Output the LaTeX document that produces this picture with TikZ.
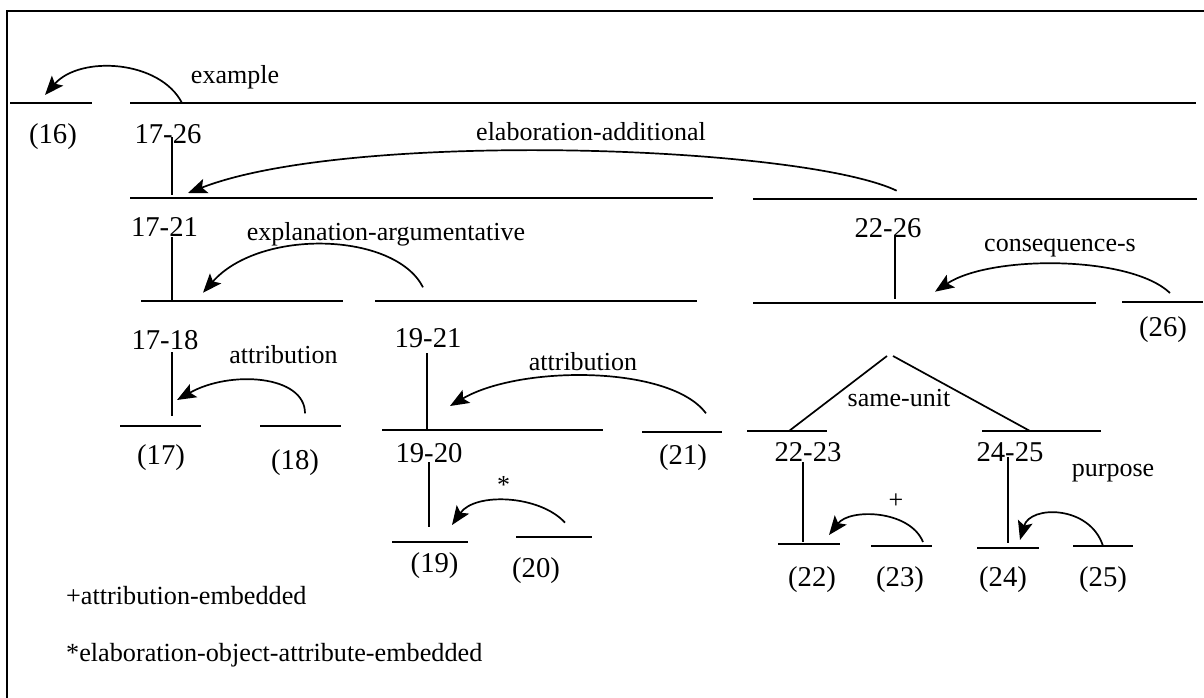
\documentclass[tikz,border=0pt]{standalone}
\usepackage{fontspec}
\setmainfont{Liberation Serif}
\usetikzlibrary{arrows.meta}
\tikzset{
  lab/.style={font=\fontsize{26}{30}\selectfont, inner sep=0pt, anchor=base},
  num/.style={font=\fontsize{28.7}{32}\selectfont, inner sep=0pt, anchor=base},
  note/.style={font=\fontsize{26.2}{30}\selectfont, inner sep=0pt, anchor=base west},
  span/.style={line width=2pt},
  stem/.style={line width=2pt},
  rel/.style={line width=1.7pt, -{Stealth[length=19pt,width=15pt,inset=4pt]}},
  frameline/.style={line width=2pt}
}
\begin{document}
\begin{tikzpicture}[x=1pt,y=-1pt]
\useasboundingbox (0,0) rectangle (1204,698);
% frame
\coordinate (fTL) at (7,11);
\coordinate (fTR) at (1204,11);
\coordinate (fBL) at (7,698);
\draw[frameline] (fTR) -- (fTL) -- (fBL);

% horizontal spans
\draw[span] (10,103) -- (92,103);
\draw[span] (130,103) -- (1196,103);
\draw[span] (130,198) -- (713,198);
\draw[span] (753,199) -- (1197,199);
\draw[span] (141,301) -- (343,301);
\draw[span] (375,301) -- (697,301);
\draw[span] (753,303) -- (1096,303);
\draw[span] (1122,302) -- (1203,302);
\draw[span] (120,426) -- (201,426);
\draw[span] (260,426) -- (341,426);
\draw[span] (382,430) -- (603,430);
\draw[span] (642,432) -- (722,432);
\draw[span] (747,431) -- (827,431);
\draw[span] (982,431) -- (1101,431);
\draw[span] (392,542) -- (468,542);
\draw[span] (516,537) -- (592,537);
\draw[span] (778,544) -- (840,544);
\draw[span] (871,546) -- (932,546);
\draw[span] (977,548) -- (1039,548);
\draw[span] (1073,546) -- (1133,546);

% stems
\coordinate (s1a) at (172,137); \coordinate (s1b) at (172,195);
\coordinate (s2a) at (172,237); \coordinate (s2b) at (172,301);
\coordinate (s3a) at (895,237); \coordinate (s3b) at (895,299);
\coordinate (s4a) at (172,352); \coordinate (s4b) at (172,416);
\coordinate (s5a) at (427,353); \coordinate (s5b) at (427,430);
\coordinate (s6a) at (429,462); \coordinate (s6b) at (429,527);
\coordinate (s7a) at (803,462); \coordinate (s7b) at (803,542);
\coordinate (s8a) at (1008,457); \coordinate (s8b) at (1008,543);
\foreach \n in {1,...,8} { \draw[stem] (s\n a) -- (s\n b); }

% same-unit
\coordinate (suL) at (887,356); \coordinate (suR) at (893,356);
\coordinate (suLe) at (789,431); \coordinate (suRe) at (1030,431);
\draw[line width=1.7pt] (suL) -- (suLe);
\draw[line width=1.7pt] (suR) -- (suRe);

% relation arrows
\coordinate (exS) at (182,103); \coordinate (exT) at (45,95);
\draw[rel] (exS) .. controls (160,60) and (80,55) .. (exT);
\coordinate (eaS) at (896.7,190.7); \coordinate (eaT) at (188,193);
\draw[rel] (eaS) .. controls (800,145) and (350,130) .. (eaT);
\coordinate (xaS) at (423,287.3); \coordinate (xaT) at (203,292.7);
\draw[rel] (xaS) .. controls (395,232) and (260,228) .. (xaT);
\coordinate (csS) at (1170,293); \coordinate (csT) at (935,291.7);
\draw[rel] (csS) .. controls (1130,255) and (990,255) .. (csT);
\coordinate (a1S) at (305,413.3); \coordinate (a1T) at (177,400);
\draw[rel] (a1S) .. controls (305,375) and (230,370) .. (a1T);
\coordinate (a2S) at (706,413.3); \coordinate (a2T) at (450,406);
\draw[rel] (a2S) .. controls (670,365) and (520,365) .. (a2T);
\coordinate (stS) at (565,522.7); \coordinate (stT) at (452,525);
\draw[rel] (stS) .. controls (540,495) and (475,492) .. (stT);
\coordinate (plS) at (923,542); \coordinate (plT) at (829,535);
\draw[rel] (plS) .. controls (910,510) and (850,508) .. (plT);
\coordinate (puS) at (1103,546); \coordinate (puT) at (1020,540);
\draw[rel] (puS) .. controls (1090,505) and (1030,505) .. (puT);

% labels
\node[lab] (lex) at (235,84) {example};
\node[num] (l16) at (53,143) {(16)};
\node[num] (l1726) at (168,143) {17-26};
\node[lab] (lea) at (591,140) {elaboration-additional};
\node[num] (l1721) at (164.5,236) {17-21};
\node[lab] (lxa) at (386,240) {explanation-argumentative};
\node[num] (l2226) at (888,237) {22-26};
\node[lab] (lcs) at (1060,251) {consequence-s};
\node[num] (l26) at (1163,336) {(26)};
\node[num] (l1718) at (165,349) {17-18};
\node[lab] (lat1) at (283.5,363) {attribution};
\node[num] (l1921) at (428,347) {19-21};
\node[lab] (lat2) at (583,370) {attribution};
\node[lab] (lsu) at (899,406) {same-unit};
\node[num] (l17) at (161,464) {(17)};
\node[num] (l18) at (295,469) {(18)};
\node[num] (l21) at (683,464) {(21)};
\node[num] (l1920) at (429,462) {19-20};
\node[num] (l2223) at (808,461) {22-23};
\node[num] (l2425) at (1010,461) {24-25};
\node[lab] (lpu) at (1113,476) {purpose};
\node[lab] (lst) at (503.6,493) {*};
\node[lab] (lpl) at (896,508.5) {+};
\node[num] (l19) at (434.6,572) {(19)};
\node[num] (l20) at (536,577) {(20)};
\node[num] (l22) at (812,586) {(22)};
\node[num] (l23) at (900,586) {(23)};
\node[num] (l24) at (1003,586) {(24)};
\node[num] (l25) at (1103,586) {(25)};
\node[note] (n1) at (66,604) {+attribution-embedded};
\node[note] (n2) at (66,661) {*elaboration-object-attribute-embedded};
\end{tikzpicture}
\end{document}
